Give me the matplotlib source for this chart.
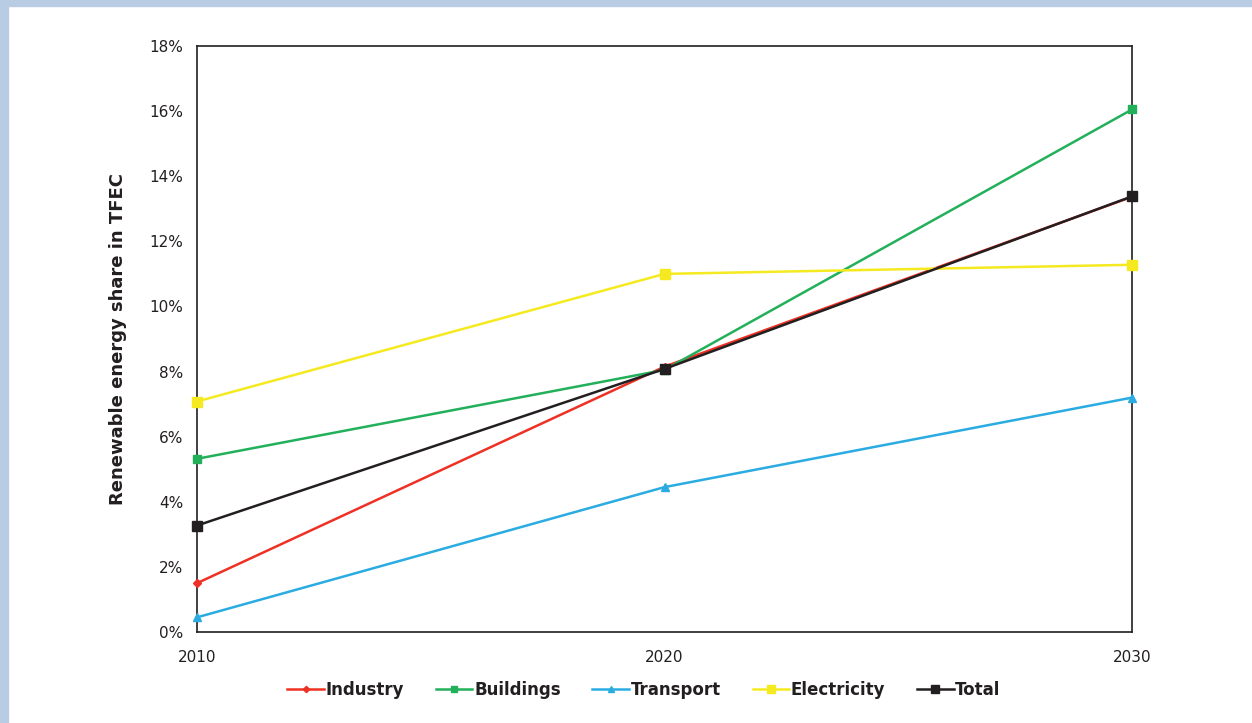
import matplotlib.pyplot as plt
from matplotlib.patches import Rectangle
from matplotlib.ticker import FuncFormatter

years = [2010, 2020, 2030]
industry = [1.50, 8.15, 13.37]
buildings = [5.32, 8.05, 16.05]
transport = [0.45, 4.45, 7.20]
electricity = [7.08, 11.0, 11.28]
total = [3.27, 8.08, 13.38]

series = [
    ('Industry', industry, '#ee3124', 'D', 4),
    ('Buildings', buildings, '#22b05a', 's', 6),
    ('Transport', transport, '#2aace2', '^', 6),
    ('Electricity', electricity, '#f5ea1f', 's', 7),
    ('Total', total, '#231f20', 's', 7),
]

fig = plt.figure(figsize=(12.52, 7.23), dpi=100)
# light blue frame at top and left
fig.patches.append(Rectangle((0, 1 - 6 / 723), 1, 6 / 723, transform=fig.transFigure,
                             color='#b8cce4', zorder=0))
fig.patches.append(Rectangle((0, 0), 8 / 1252, 1, transform=fig.transFigure,
                             color='#b8cce4', zorder=0))

ax = fig.add_axes([197 / 1252, 1 - 632 / 723, (1132 - 197) / 1252, (632 - 46) / 723])
for name, vals, col, mk, ms in series:
    ax.plot(years, vals, color=col, marker=mk, markersize=ms, lw=1.8, label=name,
            clip_on=False, zorder=3)

ax.set_xlim(2010, 2030)
ax.set_ylim(0, 18)
ax.set_xticks(years)
ax.set_yticks(range(0, 19, 2))
ax.yaxis.set_major_formatter(FuncFormatter(lambda v, p: '%d%%' % v))
ax.tick_params(length=0, labelsize=11, colors='#231f20', pad=10)
ax.tick_params(axis='x', pad=13)
for s in ax.spines.values():
    s.set_color('#231f20')
    s.set_linewidth(1.2)
ax.set_ylabel('Renewable energy share in TFEC', fontsize=13, fontweight='bold',
              color='#231f20', labelpad=16)

leg = fig.legend(loc='center', bbox_to_anchor=(644 / 1252, 1 - 690 / 723), ncol=5,
                 frameon=False, handlelength=2.2, handletextpad=0.1, columnspacing=1.9,
                 markerscale=0.8, prop={'size': 12, 'weight': 'bold'})
for t in leg.get_texts():
    t.set_color('#231f20')

fig.savefig('out.png', dpi=100)
